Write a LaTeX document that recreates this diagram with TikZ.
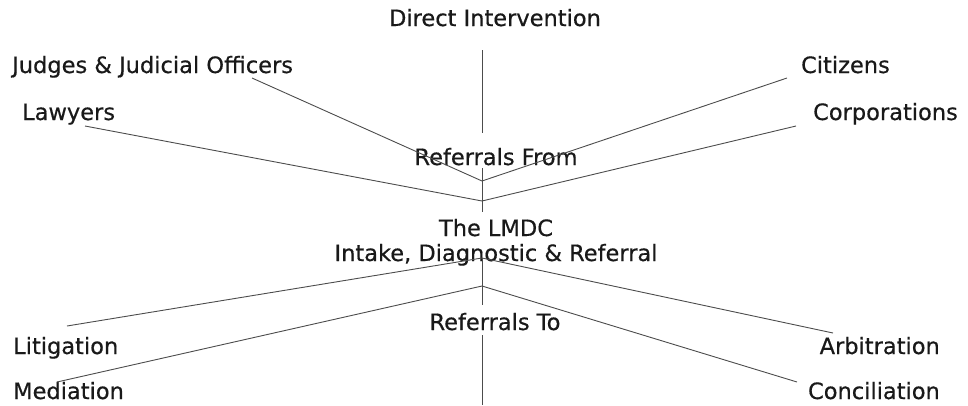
\documentclass[tikz,border=0pt]{standalone}
\usepackage{fontspec}
\setmainfont{DejaVu Sans}[FakeBold=0.5]

\definecolor{LineColor}{rgb}{0.3,0.3,0.3}
\definecolor{LabelColor}{rgb}{0.1,0.1,0.1}
\tikzstyle{lmdc-label}=[inner sep=0pt,
                        anchor=base,
                        text=LabelColor,
                        font=\fontsize{22.5}{26}\selectfont,
                       ]
\tikzstyle{lmdc-left}=[lmdc-label, anchor=base west]
\tikzstyle{lmdc-right}=[lmdc-label, anchor=base east]
\tikzstyle{lmdc-line}=[draw=LineColor, line width=0.9pt]

\begin{document}
\begin{tikzpicture}[x=1pt, y=-1pt]
    \useasboundingbox (0,0) rectangle (968,405);

    % Labels
    % --------------------------------------------------------------------------
    \node at (495,  26) (direct_text)   [lmdc-label] {Direct Intervention};
    \node at ( 12,  73) (judges_text)   [lmdc-left]  {Judges \& Judicial Officers};
    \node at ( 22, 120) (lawyers_text)  [lmdc-left]  {Lawyers};
    \node at (890,  73) (citizens_text) [lmdc-right] {Citizens};
    \node at (958, 120) (corp_text)     [lmdc-right] {Corporations};

    \node at (496, 165) (from_text)     [lmdc-label] {Referrals From};
    \node at (496, 236) (lmdc_text)     [lmdc-label] {The LMDC};
    \node at (496, 261) (intake_text)   [lmdc-label] {Intake, Diagnostic \& Referral};
    \node at (495, 330) (to_text)       [lmdc-label] {Referrals To};

    \node at ( 13, 354) (litigation_text)  [lmdc-left]  {Litigation};
    \node at ( 13, 399) (mediation_text)   [lmdc-left]  {Mediation};
    \node at (940, 354) (arbitration_text) [lmdc-right] {Arbitration};
    \node at (940, 399) (conciliation_text)[lmdc-right] {Conciliation};

    % Line ends
    % --------------------------------------------------------------------------
    \coordinate (direct_top)     at (482,  50);
    \coordinate (direct_bottom)  at (482, 133);
    \coordinate (judges_end)     at (252,  78);
    \coordinate (lawyers_end)    at ( 85, 126);
    \coordinate (citizens_end)   at (787,  78);
    \coordinate (corp_end)       at (796, 126);
    \coordinate (from_top)       at (482, 168);
    \coordinate (from_upper)     at (482, 181);
    \coordinate (from_lower)     at (482, 201);
    \coordinate (from_bottom)    at (482, 212);

    \coordinate (to_upper)       at (482, 258);
    \coordinate (to_lower)       at (482, 286);
    \coordinate (to_bottom)      at (482, 305);
    \coordinate (out_top)        at (482, 335);
    \coordinate (out_bottom)     at (482, 405);
    \coordinate (litigation_end)   at ( 67, 326);
    \coordinate (mediation_end)    at ( 57, 382);
    \coordinate (arbitration_end)  at (833, 333);
    \coordinate (conciliation_end) at (797, 382);

    % Lines
    % --------------------------------------------------------------------------
    \draw[lmdc-line] (direct_top)   -- (direct_bottom);
    \draw[lmdc-line] (from_top)     -- (from_bottom);
    \draw[lmdc-line] (judges_end)   -- (from_upper);
    \draw[lmdc-line] (citizens_end) -- (from_upper);
    \draw[lmdc-line] (lawyers_end)  -- (from_lower);
    \draw[lmdc-line] (corp_end)     -- (from_lower);

    \draw[lmdc-line] (to_upper) -- (to_bottom);
    \draw[lmdc-line] (litigation_end)   -- (to_upper);
    \draw[lmdc-line] (arbitration_end)  -- (to_upper);
    \draw[lmdc-line] (mediation_end)    -- (to_lower);
    \draw[lmdc-line] (conciliation_end) -- (to_lower);
    \draw[lmdc-line] (out_top) -- (out_bottom);
\end{tikzpicture}
\end{document}
